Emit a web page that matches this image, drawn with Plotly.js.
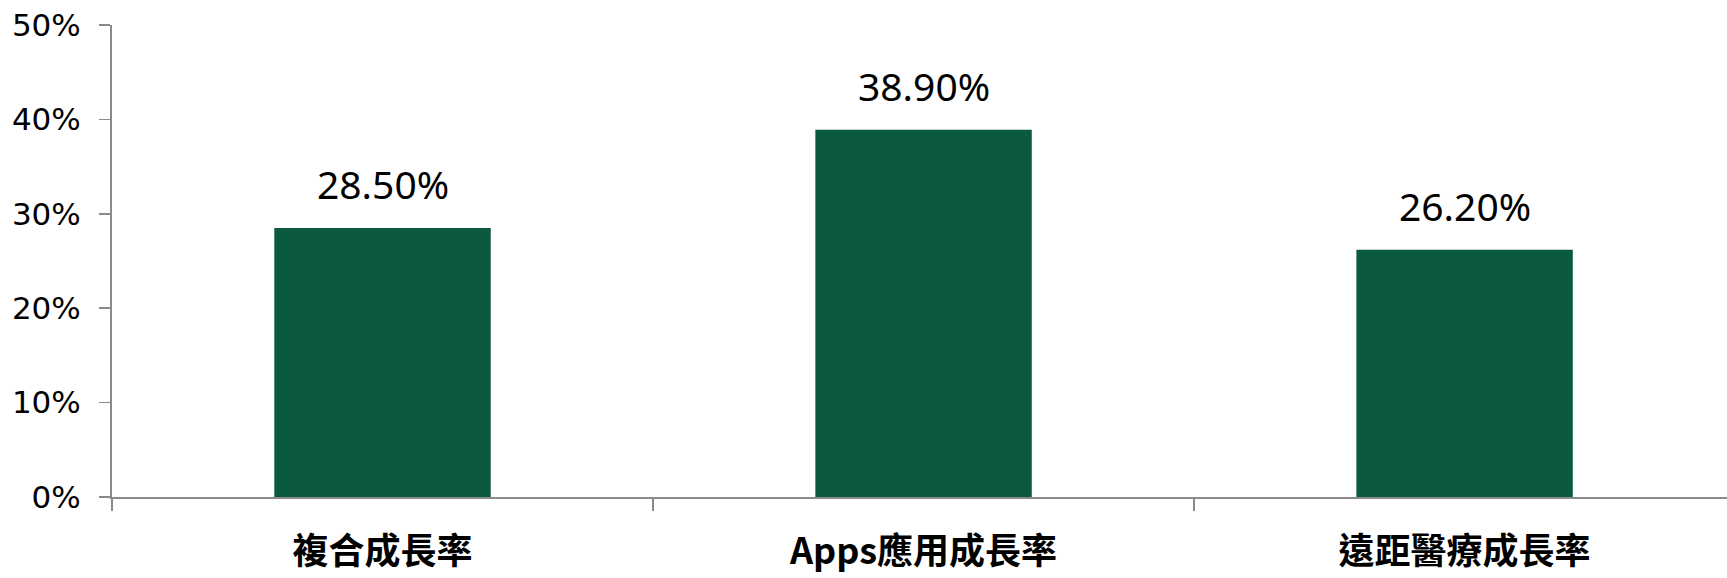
<!DOCTYPE html>
<html>
<head>
<meta charset="utf-8">
<script src="https://cdn.plot.ly/plotly-3.0.1.min.js"></script>
<style>
  html, body { margin: 0; padding: 0; background: #fff; }
  #chart { width: 1727px; height: 578px; }
</style>
</head>
<body>
<div id="chart"></div>
<script>
let categories = ['複合成長率', 'Apps應用成長率', '遠距醫療成長率'];
let growthRates = [0.285, 0.389, 0.262];
let valueLabels = ['28.50%', '38.90%', '26.20%'];
let yTickValues = [0, 0.1, 0.2, 0.3, 0.4, 0.5];
let yTickLabels = ['0%', '10%', '20%', '30%', '40%', '50%'];

let graph = document.getElementById('chart');
let axisGray = '#8a8a8a';

//bars
let data = [{
    type: 'bar',
    x: categories,
    y: growthRates,
    width: 0.4,
    marker: {color: '#0b5940', line: {width: 0}},
    hoverinfo: 'skip'
}];

//value labels above bars
let annotations = categories.map(function(cat, i) {
    return {
        x: cat,
        y: growthRates[i],
        text: valueLabels[i],
        showarrow: false,
        xanchor: 'center',
        yanchor: 'bottom',
        yshift: 16,
        font: {family: 'Noto Sans, sans-serif', size: 39, color: '#000'}
    };
});

let layout = {
    width: 1727,
    height: 578,
    margin: {l: 112, r: 0, t: 25, b: 81},
    paper_bgcolor: '#fff',
    plot_bgcolor: '#fff',
    showlegend: false,
    xaxis: {
        type: 'category',
        range: [-0.5, 2.485],
        showline: true,
        linecolor: axisGray,
        linewidth: 2,
        ticks: 'outside',
        tickson: 'boundaries',
        ticklen: 12,
        tickwidth: 1.5,
        tickcolor: axisGray,
        showgrid: false,
        zeroline: false,
        ticklabelstandoff: 22,
        tickfont: {family: 'Noto Sans CJK TC, sans-serif', size: 36, color: '#000', weight: 'bold'}
    },
    yaxis: {
        range: [0, 0.5],
        tickvals: yTickValues,
        ticktext: yTickLabels,
        showline: true,
        linecolor: axisGray,
        linewidth: 2,
        ticks: 'outside',
        ticklen: 11,
        tickwidth: 1.5,
        tickcolor: axisGray,
        showgrid: false,
        zeroline: false,
        ticklabelstandoff: 12,
        tickfont: {family: 'DejaVu Sans, sans-serif', size: 31, color: '#000'}
    },
    annotations: annotations
};

Plotly.newPlot(graph, data, layout, {displayModeBar: false, staticPlot: true});
</script>
</body>
</html>
